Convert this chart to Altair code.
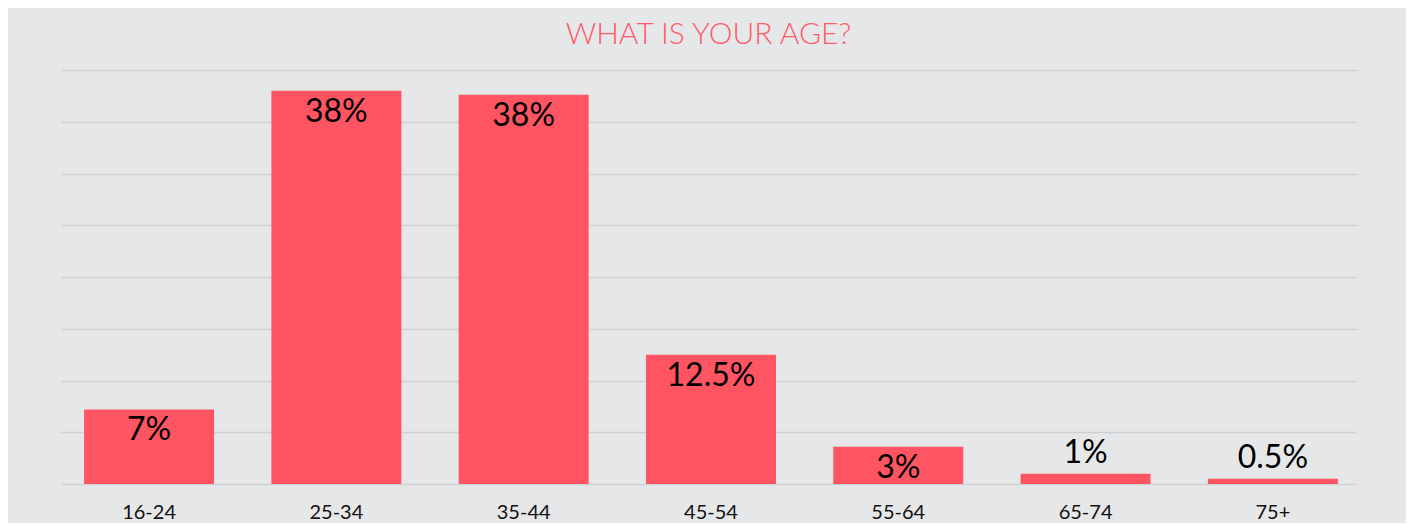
import altair as alt
import pandas as pd

ages = ["16-24", "25-34", "35-44", "45-54", "55-64", "65-74", "75+"]
values = [7.2, 38.0, 37.6, 12.5, 3.6, 1.0, 0.5]
labels = ["7%", "38%", "38%", "12.5%", "3%", "1%", "0.5%"]
placement = ["inside", "inside", "inside", "inside", "inside", "above", "above"]
y_ticks = [0, 5, 10, 15, 20, 25, 30, 35, 40]

df = pd.DataFrame({"age": ages, "value": values, "label": labels, "place": placement})

BAR = "#ff5562"
BG = "#e6e7e9"

x = alt.X("age:N", sort=ages, title=None,
          scale=alt.Scale(paddingInner=0.306, paddingOuter=0.11, align=0.56),
          axis=alt.Axis(labelAngle=0, domain=False, ticks=False, labelPadding=18,
                        labelFont="Lato", labelFontSize=20, labelColor="#111111"))
y = alt.Y("value:Q", title=None, scale=alt.Scale(domain=[0, 40], nice=False),
          axis=alt.Axis(values=y_ticks, labels=False, ticks=False, domain=False,
                        grid=True, gridColor="#cfd0d3", gridWidth=1.5))

bars = alt.Chart(df).mark_bar(color=BAR).encode(x=x, y=y)

inside = alt.Chart(df).transform_filter(alt.datum.place == "inside").mark_text(
    baseline="top", dy=6, font="Lato", fontSize=32, color="#000000"
).encode(x=alt.X("age:N", sort=ages), y="value:Q", text="label:N")

above = alt.Chart(df).transform_filter(alt.datum.place == "above").mark_text(
    baseline="bottom", dy=-4, font="Lato", fontSize=32, color="#000000"
).encode(x=alt.X("age:N", sort=ages), y="value:Q", text="label:N")

chart = alt.layer(bars, inside, above).properties(
    width=1295, height=414,
    autosize=alt.AutoSizeParams(type="none"),
    padding={"left": 53, "top": 62, "right": 50, "bottom": 39},
    background=BG,
    title=alt.TitleParams("WHAT IS YOUR AGE?", font="Lato", fontSize=30, fontWeight=300,
                          color="#ff5a68", anchor="middle", offset=20),
).configure_view(stroke=None)

chart.save("out.html", embed_options={"renderer": "svg", "actions": False})
